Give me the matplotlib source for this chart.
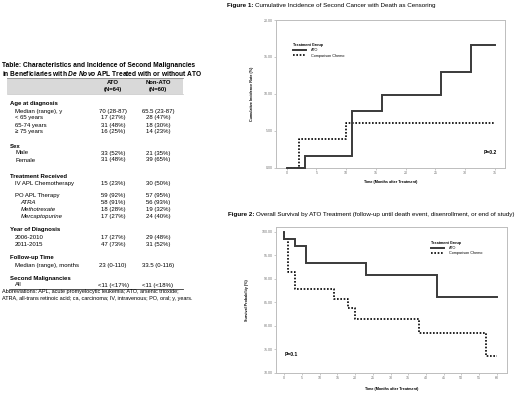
import numpy as np
import matplotlib
matplotlib.use('Agg')
import matplotlib.pyplot as plt
from matplotlib.ticker import FormatStrFormatter, MultipleLocator
from matplotlib.patches import Rectangle
from matplotlib.lines import Line2D

plt.rcParams['font.family'] = ['Liberation Sans', 'DejaVu Sans']
plt.rcParams['mathtext.fontset'] = 'custom'
plt.rcParams['mathtext.rm'] = 'Liberation Sans'
plt.rcParams['mathtext.it'] = 'Liberation Sans:italic'
plt.rcParams['mathtext.bf'] = 'Liberation Sans:bold'
plt.rcParams['mathtext.bfit'] = 'Liberation Sans:italic:bold'

# --- table data ----------------------------------------------------------
row_labels = ['Age at diagnosis', 'Median (range), y', '< 65 years', '65-74 years',
              '\u2265 75 years', 'Sex', 'Male', 'Female', 'Treatment Received',
              'IV APL Chemotherapy', 'PO APL Therapy', 'ATRA', 'Methotrexate',
              'Mercaptopurine', 'Year of Diagnosis', '2006-2010', '2011-2015',
              'Follow-up Time', 'Median (range), months', 'Second Malignancies', 'All']
row_level = [0, 1, 1, 1, 1, 0, 1, 1, 0, 1, 1, 2, 2, 2, 0, 1, 1, 0, 1, 0, 1]
ato_vals = ['', '70 (28-87)', '17 (27%)', '31 (48%)', '16 (25%)', '', '33 (52%)',
            '31 (48%)', '', '15 (23%)', '59 (92%)', '58 (91%)', '18 (28%)', '17 (27%)',
            '', '17 (27%)', '47 (73%)', '', '23 (0-110)', '', '<11 (<17%)']
nonato_vals = ['', '65.5 (23-87)', '28 (47%)', '18 (30%)', '14 (23%)', '', '21 (35%)',
               '39 (65%)', '', '30 (50%)', '57 (95%)', '56 (93%)', '19 (32%)', '24 (40%)',
               '', '29 (48%)', '31 (52%)', '', '33.5 (0-116)', '', '<11 (<18%)']
col_heads = [('ATO', '(N=64)'), ('Non-ATO', '(N=60)')]

# --- figure 1: cumulative incidence (%) ----------------------------------
ci_ato_t = [0, 3, 11, 16, 26, 31, 35]
ci_ato_v = [0, 1.6, 7.7, 9.8, 13.0, 16.6, 16.6]
ci_chemo_t = [0, 2, 10, 35]
ci_chemo_v = [0, 3.8, 6.0, 6.0]

# --- figure 2: overall survival (%) --------------------------------------
os_ato_t = [0, 0, 3, 6, 23, 43, 60]
os_ato_v = [100, 98.4, 96.9, 93.4, 90.8, 86.1, 86.1]
os_chemo_t = [0, 0, 1, 3, 14, 18, 20, 38, 57, 60]
os_chemo_v = [100, 98.4, 91.4, 87.8, 85.7, 83.7, 81.5, 78.5, 73.7, 73.7]

W, H = 520, 393
fig = plt.figure(figsize=(W / 100, H / 100), dpi=100)
renderer = fig.canvas.get_renderer()


def fx(x):
    return x / W


def fy(y):
    return 1 - y / H


def bold_lead(x, y, lead, rest, size):
    # bold "Figure n:" followed by plain text, placed right after it
    t = fig.text(fx(x), fy(y), lead, fontsize=size, fontweight='bold', va='center')
    x1 = t.get_window_extent(renderer).x1
    fig.text(x1 / W + size * 0.278 * 100 / 72 / W, fy(y), rest, fontsize=size, va='center')


# ------------------------------------------------------------------ table
fig.text(fx(2.5), fy(65.5), 'Table: Characteristics and Incidence of Second Malignancies',
         fontsize=4.8, fontweight='bold', va='center')
fig.text(fx(2.5), fy(73.5), r'in Beneficiaries with $\mathbfit{De\ Novo}$ APL Treated with or without ATO',
         fontsize=4.8, fontweight='bold', va='center')

fig.add_artist(Rectangle((fx(7), fy(94)), fx(183) - fx(7), (94 - 78) / H,
                         transform=fig.transFigure, facecolor='#d9d9d9', edgecolor='none'))
fig.add_artist(Line2D([fx(7), fx(183)], [fy(78), fy(78)], color='#8c8c8c', lw=0.6))
fig.add_artist(Line2D([fx(7), fx(183)], [fy(94), fy(94)], color='#b0b0b0', lw=0.4))
col_x = [113, 158]
for cx, (h1, h2) in zip(col_x, col_heads):
    fig.text(fx(cx), fy(82.5), h1, fontsize=4.2, fontweight='bold', ha='center', va='center')
    fig.text(fx(cx), fy(89.5), h2, fontsize=4.2, fontweight='bold', ha='center', va='center')

row_y = [104, 111, 118, 125, 132, 146, 153, 160, 176, 183, 196, 202.5, 209.5, 216.5,
         230, 237.5, 244.3, 257.7, 265, 278.3, 285]
indent = [10, 15, 20.5]
for lab, lev, a, b, y in zip(row_labels, row_level, ato_vals, nonato_vals, row_y):
    fig.text(fx(indent[lev]), fy(y), lab, fontsize=4.3,
             fontweight='bold' if lev == 0 else 'normal',
             fontstyle='italic' if lev == 2 else 'normal', va='center')
    fig.text(fx(col_x[0]), fy(y), a, fontsize=4.3, ha='center', va='center')
    fig.text(fx(col_x[1]), fy(y), b, fontsize=4.3, ha='center', va='center')

fig.add_artist(Line2D([fx(10), fx(183)], [fy(288.5), fy(288.5)], color='#333333', lw=0.6))
fig.text(fx(2.5), fy(292), 'Abbreviations: APL, acute promyelocytic leukemia; ATO, arsenic trioxide;',
         fontsize=4.0, va='center')
fig.text(fx(2.5), fy(298.5), 'ATRA, all-trans retinoic acid; ca, carcinoma; IV, intravenous; PO, oral; y, years.',
         fontsize=4.0, va='center')

# ------------------------------------------------------------------ charts
bold_lead(227, 6, 'Figure 1:', 'Cumulative Incidence of Second Cancer with Death as Censoring', 4.5)
bold_lead(228, 215, 'Figure 2:', 'Overall Survival by ATO Treatment (follow-up until death event, disenrollment, or end of study)', 4.5)

ax1 = fig.add_axes([fx(276), fy(167.5), (505 - 276) / W, (167.5 - 20) / H])
ax2 = fig.add_axes([fx(276), fy(373), (507 - 276) / W, (373 - 227) / H])

SOLID = dict(color='#3a3a3a', lw=1.4, clip_on=False, solid_joinstyle='miter')
DOTTED = dict(color='black', lw=1.2, ls=(0, (1, 1)), clip_on=False)

ax1.step(ci_chemo_t, ci_chemo_v, where='post', label='Comparison Chemo', zorder=2, **DOTTED)
ax1.step(ci_ato_t, ci_ato_v, where='post', label='ATO', zorder=3, **SOLID)
ax1.set_xlim(-1.8, 36.7)
ax1.set_ylim(0, 20)
ax1.xaxis.set_major_locator(MultipleLocator(5))
ax1.yaxis.set_major_locator(MultipleLocator(5))

ax2.step(os_chemo_t, os_chemo_v, where='post', label='Comparison Chemo', zorder=2, **DOTTED)
ax2.step(os_ato_t, os_ato_v, where='post', label='ATO', zorder=3, **SOLID)
ax2.set_xlim(-2.35, 62.9)
ax2.set_ylim(70, 101)
ax2.xaxis.set_major_locator(MultipleLocator(5))
ax2.yaxis.set_major_locator(MultipleLocator(5))

for ax in (ax1, ax2):
    for s in ax.spines.values():
        s.set_color('#bdbdbd')
        s.set_linewidth(0.7)
    ax.tick_params(length=1.5, width=0.4, color='#9e9e9e', labelsize=2.6,
                   labelcolor='#707070', pad=1)
    ax.yaxis.set_major_formatter(FormatStrFormatter('%.2f'))
    ax.set_xlabel('Time (Months after Treatment)', fontsize=2.7, fontweight='bold')

ax1.set_ylabel('Cumulative Incidence Rate (%)', fontsize=2.7, fontweight='bold')
ax2.set_ylabel('Survival Probability (%)', fontsize=2.7, fontweight='bold')
ax1.yaxis.set_label_coords(-0.096, 0.5)
ax2.yaxis.set_label_coords(-0.117, 0.5)
ax1.xaxis.set_label_coords(0.5, -0.085)
ax2.xaxis.set_label_coords(0.5, -0.099)

ax1.text(0.965, 0.10, 'P=0.2', transform=ax1.transAxes, fontsize=3.6,
         fontweight='bold', ha='right', va='center')
ax2.text(0.039, 0.125, 'P=0.1', transform=ax2.transAxes, fontsize=3.6,
         fontweight='bold', ha='left', va='center')

for ax, (lx, ly) in ((ax1, (293, 43)), (ax2, (431, 240.7))):
    handles, labels = ax.get_legend_handles_labels()
    order = [labels.index('ATO'), labels.index('Comparison Chemo')]
    ax.legend([handles[i] for i in order], [labels[i] for i in order],
              title='Treatment Group', loc='upper left',
              bbox_to_anchor=(fx(lx), fy(ly)), bbox_transform=fig.transFigure,
              frameon=False, fontsize=2.7,
              title_fontproperties={'weight': 'bold', 'size': 2.7},
              alignment='left', handlelength=3.5, handletextpad=1.2,
              labelspacing=0.35, borderpad=0, borderaxespad=0)

fig.savefig('out.png', dpi=100)
